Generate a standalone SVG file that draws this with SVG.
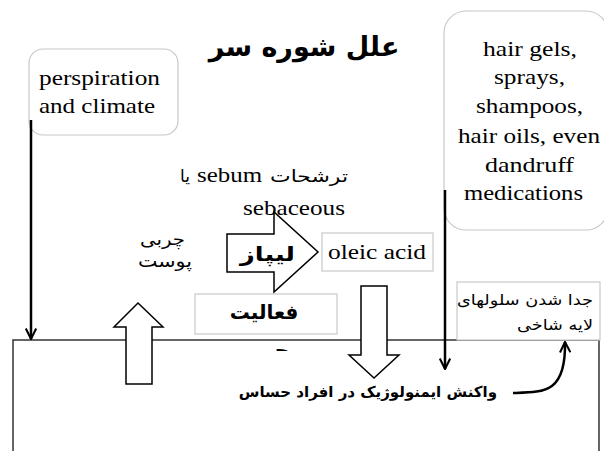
<svg xmlns="http://www.w3.org/2000/svg" width="604" height="451" viewBox="0 0 604 451">
<style>
.en{font-size:21px;fill:#000}
.fa{font-family:"DejaVu Sans",sans-serif;fill:#000}
.box{fill:#fff;stroke:#c8c8c8;stroke-width:1.2}
.hol{fill:#fff;stroke:#000;stroke-width:1.5;stroke-linejoin:miter}
.ln{stroke:#000;stroke-width:2.5;fill:none}
</style>
<defs>
<marker id="ah" viewBox="0 0 12 12" refX="11" refY="6" markerWidth="5" markerHeight="5" orient="auto" markerUnits="strokeWidth">
<path d="M1,1 L11,6 L1,11" fill="none" stroke="#000" stroke-width="2"/>
</marker>
<clipPath id="cut"><rect x="200" y="341" width="140" height="10"/></clipPath>
</defs>
<rect width="604" height="451" fill="#fff"/>
<g id="title"><text class="fa" x="304" y="56" font-size="27" font-weight="bold" text-anchor="middle">علل شوره سر</text></g>
<g id="ground"><path d="M13,451 L13,340 L599,340 L599,451" fill="none" stroke="#333" stroke-width="1.5"/></g>
<g font-family="Liberation Serif, serif">
<g id="perspiration">
<rect class="box" x="29" y="49" width="149" height="86" rx="14"/>
<text class="en" x="39" y="85" textLength="121" lengthAdjust="spacingAndGlyphs">perspiration</text>
<text class="en" x="39" y="113" textLength="116" lengthAdjust="spacingAndGlyphs">and climate</text>
</g>
<g id="products">
<rect class="box" x="444" y="11" width="164" height="219" rx="22"/>
<text class="en" x="483" y="56" textLength="94" lengthAdjust="spacingAndGlyphs">hair gels,</text>
<text class="en" x="494" y="84" textLength="71" lengthAdjust="spacingAndGlyphs">sprays,</text>
<text class="en" x="476" y="113" textLength="107" lengthAdjust="spacingAndGlyphs">shampoos,</text>
<text class="en" x="458" y="143" textLength="142" lengthAdjust="spacingAndGlyphs">hair oils, even</text>
<text class="en" x="485" y="172" textLength="89" lengthAdjust="spacingAndGlyphs">dandruff</text>
<text class="en" x="464" y="200" textLength="119" lengthAdjust="spacingAndGlyphs">medications</text>
</g>
<g id="sebum">
<text class="fa" x="270" y="182" font-size="17" textLength="78" lengthAdjust="spacingAndGlyphs">ترشحات</text>
<text class="en" x="197" y="182" textLength="65" lengthAdjust="spacingAndGlyphs">sebum</text>
<text class="fa" x="190" y="182" font-size="17" text-anchor="end">یا</text>
<text class="en" x="243" y="215" textLength="102" lengthAdjust="spacingAndGlyphs">sebaceous</text>
</g>
<g id="skinfat">
<text class="fa" x="140" y="245" font-size="17" textLength="45" lengthAdjust="spacingAndGlyphs">چربی</text>
<text class="fa" x="138" y="267" font-size="17" textLength="54" lengthAdjust="spacingAndGlyphs">پوست</text>
</g>
<g id="lipase">
<path class="hol" d="M227,234 L274,234 L274,212 L318,252 L274,292 L274,272 L227,272 Z"/>
<text class="fa" x="240" y="261" font-size="20" font-weight="bold" textLength="55" lengthAdjust="spacingAndGlyphs">لیپاز</text>
</g>
<g id="oleic">
<rect class="box" x="322" y="233" width="111" height="38"/>
<text class="en" x="328" y="259" textLength="98" lengthAdjust="spacingAndGlyphs">oleic acid</text>
</g>
</g>
<g id="activity">
<rect class="box" x="195" y="294" width="142" height="40"/>
<text class="fa" x="264" y="319" font-size="20" font-weight="bold" text-anchor="middle">فعالیت</text>
<text class="fa" x="262" y="357" font-size="20" font-weight="bold" text-anchor="middle" clip-path="url(#cut)">چربی</text>
</g>
<g id="horny">
<rect class="box" x="457" y="282" width="143" height="58"/>
<text class="fa" x="457" y="305" font-size="15" textLength="136" lengthAdjust="spacingAndGlyphs">جدا شدن سلولهای</text>
<text class="fa" x="517" y="330" font-size="15" textLength="76" lengthAdjust="spacingAndGlyphs">لایه شاخی</text>
</g>
<g id="immuno"><text class="fa" x="497" y="397" font-size="15" font-weight="bold" text-anchor="end">واکنش ایمنولوژیک در افراد حساس</text></g>
<g id="connectors">
<line class="ln" x1="31" y1="120" x2="31" y2="339" marker-end="url(#ah)"/>
<line class="ln" x1="445" y1="190" x2="445" y2="369" marker-end="url(#ah)"/>
<path class="hol" d="M126,384 L152,384 L152,327 L163,327 L138,303 L114,327 L126,327 Z"/>
<path class="hol" d="M361,286 L387,286 L387,355 L399,355 L374,378 L349,355 L361,355 Z"/>
<path class="ln" d="M513,393 C545,392 566,393 565,342" marker-end="url(#ah)"/>
</g>
</svg>
